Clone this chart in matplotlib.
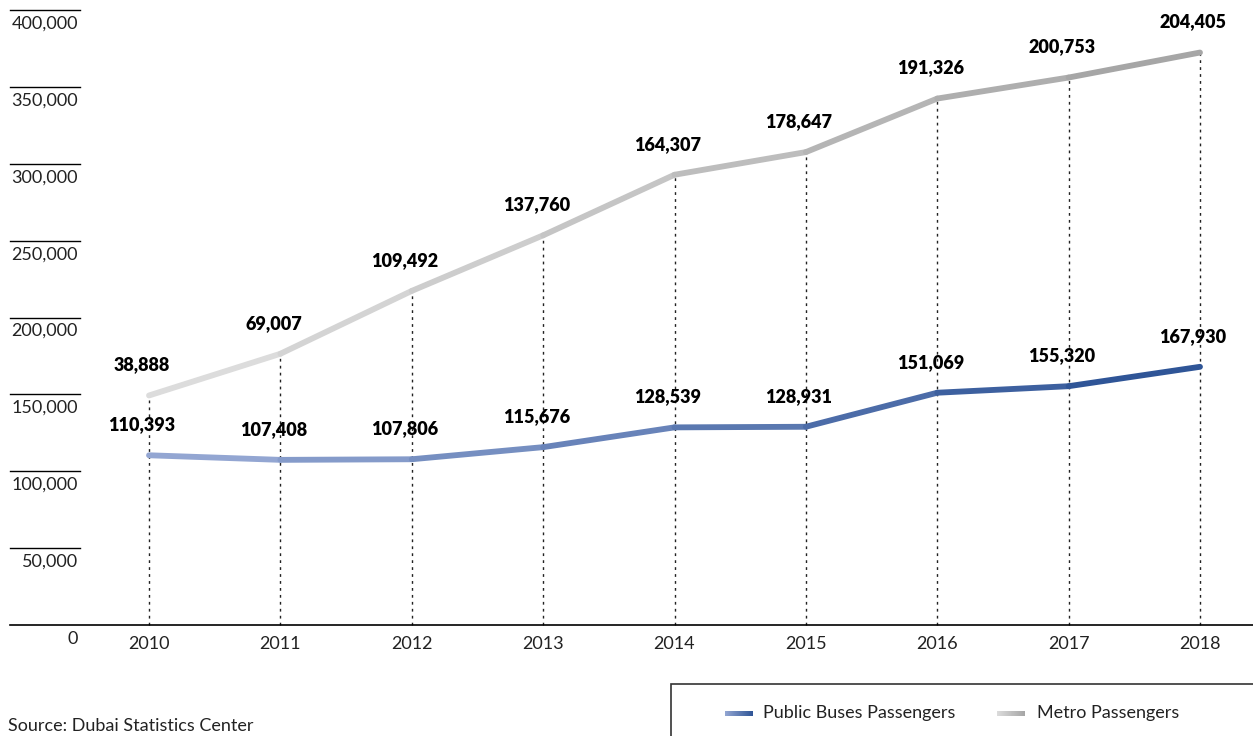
import numpy as np
import matplotlib.pyplot as plt
from matplotlib.collections import LineCollection
from matplotlib.colors import LinearSegmentedColormap
from matplotlib.patches import Rectangle

plt.rcParams['font.family'] = ['Lato', 'DejaVu Sans']

years = [2010, 2011, 2012, 2013, 2014, 2015, 2016, 2017, 2018]
bus = [110393, 107408, 107806, 115676, 128539, 128931, 151069, 155320, 167930]
metro = [38888, 69007, 109492, 137760, 164307, 178647, 191326, 200753, 204405]
yticks = [0, 50000, 100000, 150000, 200000, 250000, 300000, 350000, 400000]

bus_cmap = LinearSegmentedColormap.from_list('bus', ['#93a6d2', '#2f5597'])
metro_cmap = LinearSegmentedColormap.from_list('metro', ['#dcdcdc', '#a6a6a6'])

x = np.array(years, dtype=float)
bus_y = np.array(bus, dtype=float)
# metro is stacked on top of the bus line
total_y = bus_y + np.array(metro, dtype=float)

fig = plt.figure(figsize=(12.53, 7.36), dpi=100)
ax = fig.add_axes([0, 0, 1, 1])
ax.set_xlim(2010 - 149 / 131.375, 2010 + 1104 / 131.375)
ax.set_ylim(-111 / 615 * 400000, 400000 + 10 / 615 * 400000)
ax.axis('off')

ytr = ax.get_yaxis_transform()
x0 = 10 / 1253
x1 = 80 / 1253

# baseline and short left-hand guides
ax.plot([x0, 1], [0, 0], transform=ytr, color='black', lw=1.2, zorder=2)
for v in yticks:
    if v > 0:
        ax.plot([x0, x1], [v, v], transform=ytr, color='black', lw=1.0)
    ax.annotate(f'{v:,}', xy=(78 / 1253, v), xycoords=ytr, xytext=(0, -4),
                textcoords='offset points', ha='right', va='top', fontsize=13,
                color='#222222')

# dotted drop lines
for xi, ti in zip(x, total_y):
    ax.plot([xi, xi], [0, ti], color='#222222', lw=1.0, ls=(0, (2, 3)), zorder=1)


def gradient_line(xs, ys, cmap):
    pts = np.column_stack([xs, ys]).reshape(-1, 1, 2)
    segs = np.concatenate([pts[:-1], pts[1:]], axis=1)
    colors = cmap(np.linspace(0, 1, len(segs)))
    lc = LineCollection(segs, colors=colors, linewidths=4.2, capstyle='round',
                        joinstyle='round', zorder=3)
    ax.add_collection(lc)


gradient_line(x, bus_y, bus_cmap)
gradient_line(x, total_y, metro_cmap)

for xi, bi, ti, b, m in zip(x, bus_y, total_y, bus, metro):
    ax.annotate(f'{b:,}', xy=(xi, bi), xytext=(-5, 22), textcoords='offset points',
                ha='center', va='center', fontsize=13, fontweight='heavy', color='black')
    ax.annotate(f'{m:,}', xy=(xi, ti), xytext=(-5, 22), textcoords='offset points',
                ha='center', va='center', fontsize=13, fontweight='heavy', color='black')

for xi, yr in zip(x, years):
    ax.annotate(str(yr), xy=(xi, 0), xytext=(0, -14), textcoords='offset points',
                ha='center', va='center', fontsize=13, color='#222222')

fig.text(8 / 1253, 1 - 718 / 736, 'Source: Dubai Statistics Center', ha='left', va='top',
         fontsize=13, color='#222222')

# legend box
fig.patches.append(Rectangle((671 / 1253, -0.05), 0.6, 0.05 + (736 - 684) / 736,
                             transform=fig.transFigure, fill=False, ec='#333333', lw=1.2))
grad = np.linspace(0, 1, 64).reshape(1, -1)
for left, cmap, label, tx in [(725, bus_cmap, 'Public Buses Passengers', 763),
                              (997, metro_cmap, 'Metro Passengers', 1037)]:
    sw = fig.add_axes([left / 1253, 1 - 716 / 736, 28 / 1253, 5 / 736])
    sw.imshow(grad, aspect='auto', cmap=cmap)
    sw.axis('off')
    fig.text(tx / 1253, 1 - 713 / 736, label, ha='left', va='center', fontsize=13,
             color='#222222')

fig.savefig('out.png', dpi=100)
